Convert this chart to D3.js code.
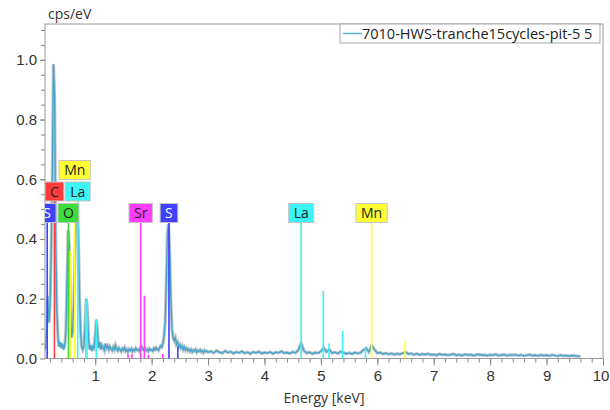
<!DOCTYPE html>
<html>
<head>
<meta charset="utf-8">
<script src="https://cdn.jsdelivr.net/npm/d3@7"></script>
<style>
  body { margin: 0; background: #fff; }
  svg { display: block; font-family: "Open Sans", "Noto Sans", sans-serif; }
</style>
</head>
<body>
<div id="chart"></div>
<script>
// spectrum, in 0.001 cps/eV; 0.10..3.00 keV every 0.02 keV
const lowStart = 0.10, lowStep = 0.02;
const lowCounts = [
  25, 40, 110, 210, 120, 180, 360, 600, 985, 880,   // 0.10
  380, 160, 70, 40, 55, 35, 50, 30, 45, 90,         // 0.30
  250, 430, 380, 160, 70, 90, 180, 330, 480, 510,   // 0.50
  420, 220, 90, 40, 30, 45, 110, 200, 170, 70,      // 0.70
  30, 45, 25, 40, 35, 80, 130, 90, 35, 55,          // 0.90
  30, 45, 38, 28, 50, 35, 42, 30, 40, 33,           // 1.10
  27, 38, 30, 44, 32, 26, 35, 30, 24, 33,           // 1.30
  28, 36, 25, 30, 22, 31, 27, 33, 24, 30,           // 1.50
  26, 34, 28, 30, 25, 36, 40, 32, 28, 35,           // 1.70
  26, 30, 24, 33, 28, 30, 25, 34, 29, 36,           // 1.90
  31, 27, 35, 42, 38, 50, 75, 120, 260, 420,        // 2.10
  450, 360, 200, 100, 70, 60, 70, 48, 55, 40,       // 2.30
  46, 35, 42, 30, 38, 28, 34, 26, 31, 24,           // 2.50
  30, 22, 28, 25, 30, 21, 27, 24, 29, 22,           // 2.70
  26, 20, 27, 23, 25, 21                            // 2.90
];
// 3.05..9.60 keV every 0.05 keV
const highStart = 3.05, highStep = 0.05;
const highCounts = [
  24, 19, 26, 21, 18, 25, 20, 23, 17, 22,   // 3.05
  19, 24, 18, 21, 16, 22, 19, 23, 17, 20,   // 3.55
  18, 22, 16, 21, 19, 24, 18, 20, 17, 22,   // 4.05
  19, 28, 52, 26, 18, 21, 16, 20, 18, 24,   // 4.55
  36, 22, 30, 18, 21, 17, 23, 20, 16, 19,   // 5.05
  15, 20, 17, 19, 28, 35, 22, 44, 30, 18,   // 5.55
  20, 15, 18, 14, 17, 13, 16, 14, 18, 22,   // 6.05
  15, 17, 13, 16, 12, 15, 13, 16, 12, 14,   // 6.55
  11, 15, 12, 14, 11, 13, 15, 11, 13, 10,   // 7.05
  14, 12, 13, 10, 12, 14, 11, 12, 10, 13,   // 7.55
  11, 14, 10, 12, 13, 10, 12, 11, 13, 10,   // 8.05
  12, 9, 11, 13, 10, 11, 9, 12, 10, 11,     // 8.55
  9, 12, 10, 8, 11, 9, 10, 8, 10, 9,        // 9.05
  8, 7                                      // 9.55
];

const seriesName = '7010-HWS-tranche15cycles-pit-5 5';
const xTicks = [1, 2, 3, 4, 5, 6, 7, 8, 9, 10];
const yTicks = [0, 0.2, 0.4, 0.6, 0.8, 1.0];

// labelled element lines
const labelEl = ['S', 'O', 'C', 'La', 'Mn', 'Sr', 'S', 'La', 'Mn'];
const labelE = [0.149, 0.525, 0.277, 0.69, 0.637, 1.806, 2.307, 4.651, 5.899];
const labelRow = [0, 0, 1, 1, 2, 0, 0, 0, 0];

// other element lines (energy, height in cps/eV)
const lineEl = ['Mn', 'La', 'La', 'La', 'Sr', 'Sr', 'Sr', 'Sr', 'Sr', 'S', 'La', 'La', 'La', 'La', 'Mn'];
const lineE = [0.556, 0.833, 0.855, 1.02, 1.582, 1.65, 1.872, 1.94, 2.196, 2.464, 5.042, 5.143, 5.384, 5.789, 6.49];
const lineH = [0.36, 0.2, 0.19, 0.13, 0.015, 0.015, 0.21, 0.012, 0.015, 0.04, 0.226, 0.05, 0.093, 0.035, 0.059];

const elColor = { S: '#4040ff', C: '#ff3b3b', O: '#3ddc3d', Mn: '#ffff33', La: '#3cf5f5', Sr: '#ff3cff' };
const elText = { S: '#fff', C: '#222', O: '#222', Mn: '#222', La: '#222', Sr: '#222' };

const width = 610, height = 410;
const plot = { left: 45, right: 603, top: 24, bottom: 358.5 };

const svg = d3.select('#chart')
  .append('svg')
  .attr('width', width)
  .attr('height', height);

const x = d3.scaleLinear().domain([0.11, 10]).range([plot.left, plot.right]);
const y = d3.scaleLinear().domain([0, 1.12]).range([plot.bottom, plot.top]);

svg.append('clipPath').attr('id', 'clip')
  .append('rect')
  .attr('x', plot.left).attr('y', plot.top)
  .attr('width', plot.right - plot.left).attr('height', plot.bottom - plot.top);

// axes: minor ticks first, then major ticks with labels
const xMinor = d3.range(1, 50).map((d) => d * 0.2);
svg.append('g')
  .attr('transform', `translate(0,${plot.bottom})`)
  .call(d3.axisBottom(x).tickValues(xMinor).tickSize(4).tickFormat(''))
  .call((g) => g.select('.domain').remove())
  .selectAll('line').attr('stroke', '#888');

svg.append('g')
  .attr('transform', `translate(0,${plot.bottom})`)
  .call(d3.axisBottom(x).tickValues(xTicks).tickSize(7).tickPadding(5).tickFormat(d3.format('d')))
  .call((g) => g.select('.domain').remove())
  .call((g) => g.selectAll('line').attr('stroke', '#888'))
  .selectAll('text')
  .attr('fill', '#333')
  .attr('dx', (d) => (d === 10 ? -2.5 : 0))
  .style('font-size', '15px');

const yMinor = d3.range(1, 23).map((d) => d * 0.05);
svg.append('g')
  .attr('transform', `translate(${plot.left},0)`)
  .call(d3.axisLeft(y).tickValues(yMinor).tickSize(4).tickFormat(''))
  .call((g) => g.select('.domain').remove())
  .selectAll('line').attr('stroke', '#888');

svg.append('g')
  .attr('transform', `translate(${plot.left},0)`)
  .call(d3.axisLeft(y).tickValues(yTicks).tickSize(5).tickPadding(3).tickFormat(d3.format('.1f')))
  .call((g) => g.select('.domain').remove())
  .call((g) => g.selectAll('line').attr('stroke', '#888'))
  .selectAll('text')
  .attr('fill', '#333')
  .style('font-size', '15px');

// frame
svg.append('rect')
  .attr('x', plot.left).attr('y', plot.top)
  .attr('width', plot.right - plot.left).attr('height', plot.bottom - plot.top)
  .attr('fill', 'none')
  .attr('stroke', '#999');

// spectrum
const spectrum = lowCounts.map((v, i) => [lowStart + i * lowStep, v / 1000])
  .concat(highCounts.map((v, i) => [highStart + i * highStep, v / 1000]));

const line = d3.line().x((d) => x(d[0])).y((d) => y(d[1]));
const inner = svg.append('g').attr('clip-path', 'url(#clip)');

inner.append('path')
  .datum(spectrum)
  .attr('d', line)
  .attr('fill', 'none')
  .attr('stroke', '#b9c5cc')
  .attr('stroke-width', 3.2);

inner.append('path')
  .datum(spectrum)
  .attr('d', line)
  .attr('fill', 'none')
  .attr('stroke', '#45a3c9')
  .attr('stroke-width', 1.3);

// small element lines
lineE.forEach((e, i) => {
  inner.append('line')
    .attr('x1', x(e)).attr('x2', x(e))
    .attr('y1', y(0)).attr('y2', y(lineH[i]))
    .attr('stroke', elColor[lineEl[i]])
    .attr('stroke-width', 1.6);
});

// labelled element lines with boxes
const rowPitch = 21.5, boxH = 19;
const rowBottom = (r) => 222.5 - r * rowPitch;

labelE.forEach((e, i) => {
  inner.append('line')
    .attr('x1', x(e)).attr('x2', x(e))
    .attr('y1', y(0)).attr('y2', rowBottom(labelRow[i]))
    .attr('stroke', elColor[labelEl[i]])
    .attr('stroke-width', 1.6);
});

// draw higher rows first so lower boxes sit on top
d3.range(labelE.length)
  .sort((a, b) => labelRow[b] - labelRow[a])
  .forEach((i) => {
    const el = labelEl[i];
    const g = inner.append('g');
    const t = g.append('text')
      .attr('x', x(labelE[i]))
      .attr('y', rowBottom(labelRow[i]) - 4.5)
      .attr('text-anchor', 'middle')
      .attr('fill', elText[el])
      .style('font-size', '14px')
      .text(el);
    const w = t.node().getComputedTextLength() + 10;
    g.insert('rect', 'text')
      .attr('x', x(labelE[i]) - w / 2)
      .attr('y', rowBottom(labelRow[i]) - boxH)
      .attr('width', w)
      .attr('height', boxH)
      .attr('fill', elColor[el])
      .attr('stroke', '#c4c4c4');
  });

// legend
const legend = svg.append('g');
legend.append('rect')
  .attr('x', 340).attr('y', plot.top)
  .attr('width', 260).attr('height', 19)
  .attr('fill', '#fff')
  .attr('stroke', '#aaa');
legend.append('line')
  .attr('x1', 343).attr('x2', 362)
  .attr('y1', plot.top + 9.5).attr('y2', plot.top + 9.5)
  .attr('stroke', '#5ab0d6')
  .attr('stroke-width', 1.5);
legend.append('text')
  .attr('x', 362).attr('y', plot.top + 15)
  .attr('fill', '#222')
  .style('font-size', '14.5px')
  .text(seriesName);

// titles
svg.append('text')
  .attr('x', 48).attr('y', 19)
  .attr('fill', '#333')
  .style('font-size', '14px')
  .text('cps/eV');

svg.append('text')
  .attr('x', (plot.left + plot.right) / 2).attr('y', 403)
  .attr('text-anchor', 'middle')
  .attr('fill', '#333')
  .style('font-size', '14px')
  .text('Energy [keV]');
</script>
</body>
</html>
